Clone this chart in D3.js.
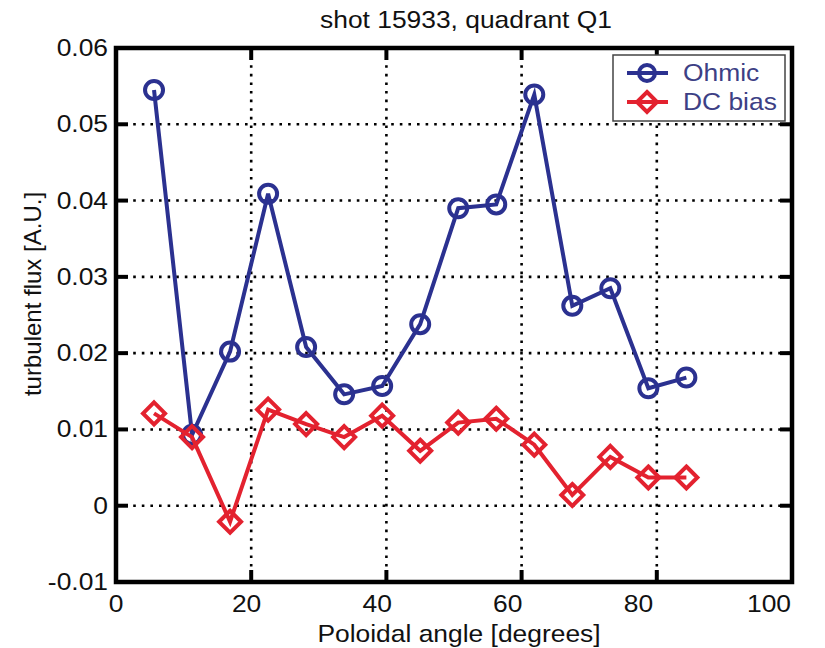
<!DOCTYPE html>
<html>
<head>
<meta charset="utf-8">
<script src="https://cdn.jsdelivr.net/npm/d3@7"></script>
<style>
  body { margin: 0; background: #fff; }
  svg { display: block; font-family: "Liberation Sans", Arial, sans-serif; }
</style>
</head>
<body>
<svg id="chart"></svg>
<script>
// poloidal angles of the probes (degrees)
const angles = [5.625, 11.25, 16.875, 22.5, 28.125, 33.75, 39.375, 45, 50.625, 56.25, 61.875, 67.5, 73.125, 78.75, 84.375];
const ohmic = [0.0545, 0.0093, 0.0202, 0.0409, 0.0208, 0.0146, 0.0157, 0.0238, 0.0390, 0.0395, 0.0539, 0.0262, 0.0285, 0.0154, 0.0168];
const dcBias = [0.0121, 0.0090, -0.0021, 0.0126, 0.0107, 0.0090, 0.0118, 0.0072, 0.0109, 0.0114, 0.0080, 0.0014, 0.0064, 0.0037, 0.0037];
const xTicks = [0, 20, 40, 60, 80, 100];
const yTicks = [-0.01, 0, 0.01, 0.02, 0.03, 0.04, 0.05, 0.06];
const yTickLabels = ["-0.01", "0", "0.01", "0.02", "0.03", "0.04", "0.05", "0.06"];
const seriesNames = ["Ohmic", "DC bias"];

const width = 825, height = 648;
const marginTop = 48, marginRight = 33, marginBottom = 66, marginLeft = 116;
const blue = "#2b3190", red = "#e3222f";
const stretch = "scale(1.1,1)";

const x = d3.scaleLinear([0, 100], [marginLeft, width - marginRight]);
const y = d3.scaleLinear([-0.01, 0.06], [height - marginBottom, marginTop]);
// tick labels in the picture sit a bit closer together than the grid
const xLabel = d3.scaleLinear([0, 100], [marginLeft, 769]);

const svg = d3.select("#chart")
  .attr("width", width).attr("height", height)
  .attr("viewBox", [0, 0, width, height]);

svg.append("rect").attr("width", width).attr("height", height).attr("fill", "#fff");

// сетка
const grid = svg.append("g")
  .attr("stroke", "#000").attr("stroke-width", 2.6).attr("stroke-dasharray", "2.6,6");
grid.selectAll(".gx").data(xTicks.slice(1, -1)).join("line")
  .attr("x1", d => x(d)).attr("x2", d => x(d))
  .attr("y1", marginTop).attr("y2", height - marginBottom);
grid.selectAll(".gy").data(yTicks.slice(1, -1)).join("line")
  .attr("y1", d => y(d)).attr("y2", d => y(d))
  .attr("x1", marginLeft).attr("x2", width - marginRight);

// inward ticks on all four sides
const tickLen = 12;
const ticks = svg.append("g").attr("stroke", "#000").attr("stroke-width", 4);
ticks.selectAll(".tb").data(xTicks).join("line")
  .attr("x1", d => x(d)).attr("x2", d => x(d))
  .attr("y1", height - marginBottom).attr("y2", height - marginBottom - tickLen);
ticks.selectAll(".tt").data(xTicks).join("line")
  .attr("x1", d => x(d)).attr("x2", d => x(d))
  .attr("y1", marginTop).attr("y2", marginTop + tickLen);
ticks.selectAll(".tl").data(yTicks).join("line")
  .attr("y1", d => y(d)).attr("y2", d => y(d))
  .attr("x1", marginLeft).attr("x2", marginLeft + tickLen);
ticks.selectAll(".tr").data(yTicks).join("line")
  .attr("y1", d => y(d)).attr("y2", d => y(d))
  .attr("x1", width - marginRight).attr("x2", width - marginRight - tickLen);

// рамка
svg.append("rect")
  .attr("x", marginLeft).attr("y", marginTop)
  .attr("width", x(100) - x(0)).attr("height", y(-0.01) - y(0.06))
  .attr("fill", "none").attr("stroke", "#000").attr("stroke-width", 4.5);

// подписи тиков
svg.append("g").selectAll("text").data(xTicks).join("text")
  .attr("transform", d => `translate(${xLabel(d)},${height - marginBottom + 30}) ${stretch}`)
  .attr("text-anchor", "middle").attr("font-size", 24).attr("fill", "#111")
  .text(d => d);
svg.append("g").selectAll("text").data(yTicks).join("text")
  .attr("transform", d => `translate(${marginLeft - 8},${y(d) + 8}) ${stretch}`)
  .attr("text-anchor", "end").attr("font-size", 24).attr("fill", "#111")
  .text((d, i) => yTickLabels[i]);

// заголовки осей
svg.append("text")
  .attr("transform", `translate(466,28) ${stretch}`)
  .attr("text-anchor", "middle").attr("font-size", 24).attr("fill", "#111")
  .text("shot 15933, quadrant Q1");
svg.append("text")
  .attr("transform", `translate(459,642) ${stretch}`)
  .attr("text-anchor", "middle").attr("font-size", 24).attr("fill", "#111")
  .text("Poloidal angle [degrees]");
svg.append("text")
  .attr("transform", "translate(41,294) rotate(-90)")
  .attr("text-anchor", "middle").attr("font-size", 24).attr("fill", "#111")
  .text("turbulent flux [A.U.]");

// линии
const line = d3.line().x(d => x(d[0])).y(d => y(d[1]));
const ohmicData = d3.zip(angles, ohmic);
const dcData = d3.zip(angles, dcBias);

const diamond = s => `M0,${-s}L${s},0L0,${s}L${-s},0Z`;

function drawCircles(g, data, color) {
  g.selectAll("circle").data(data).join("circle")
    .attr("cx", d => x(d[0])).attr("cy", d => y(d[1])).attr("r", 9)
    .attr("fill", "none").attr("stroke", color).attr("stroke-width", 4);
}
function drawDiamonds(g, data, color) {
  g.selectAll("path.m").data(data).join("path").attr("class", "m")
    .attr("transform", d => `translate(${x(d[0])},${y(d[1])})`)
    .attr("d", diamond(11))
    .attr("fill", "none").attr("stroke", color).attr("stroke-width", 4);
}

const gOhm = svg.append("g");
gOhm.append("path").datum(ohmicData).attr("d", line)
  .attr("fill", "none").attr("stroke", blue).attr("stroke-width", 4);
drawCircles(gOhm, ohmicData, blue);

const gDc = svg.append("g");
gDc.append("path").datum(dcData).attr("d", line)
  .attr("fill", "none").attr("stroke", red).attr("stroke-width", 4);
drawDiamonds(gDc, dcData, red);

// легенда
const legend = svg.append("g").attr("transform", "translate(613,55)");
legend.append("rect").attr("width", 172).attr("height", 66)
  .attr("fill", "#fff").attr("stroke", "#444").attr("stroke-width", 1.5);
const rows = legend.selectAll("g.row").data(seriesNames).join("g")
  .attr("transform", (d, i) => `translate(0,${18 + i * 29})`);
rows.append("line").attr("x1", 14).attr("x2", 55)
  .attr("stroke", (d, i) => i ? red : blue).attr("stroke-width", 4);
rows.filter((d, i) => i === 0).append("circle")
  .attr("cx", 34).attr("r", 8).attr("fill", "none").attr("stroke", blue).attr("stroke-width", 4);
rows.filter((d, i) => i === 1).append("path")
  .attr("transform", "translate(34,0)").attr("d", diamond(10))
  .attr("fill", "none").attr("stroke", red).attr("stroke-width", 4);
rows.append("text")
  .attr("transform", `translate(70,8) ${stretch}`)
  .attr("font-size", 24).attr("fill", "#3d3f85")
  .text(d => d);
</script>
</body>
</html>
